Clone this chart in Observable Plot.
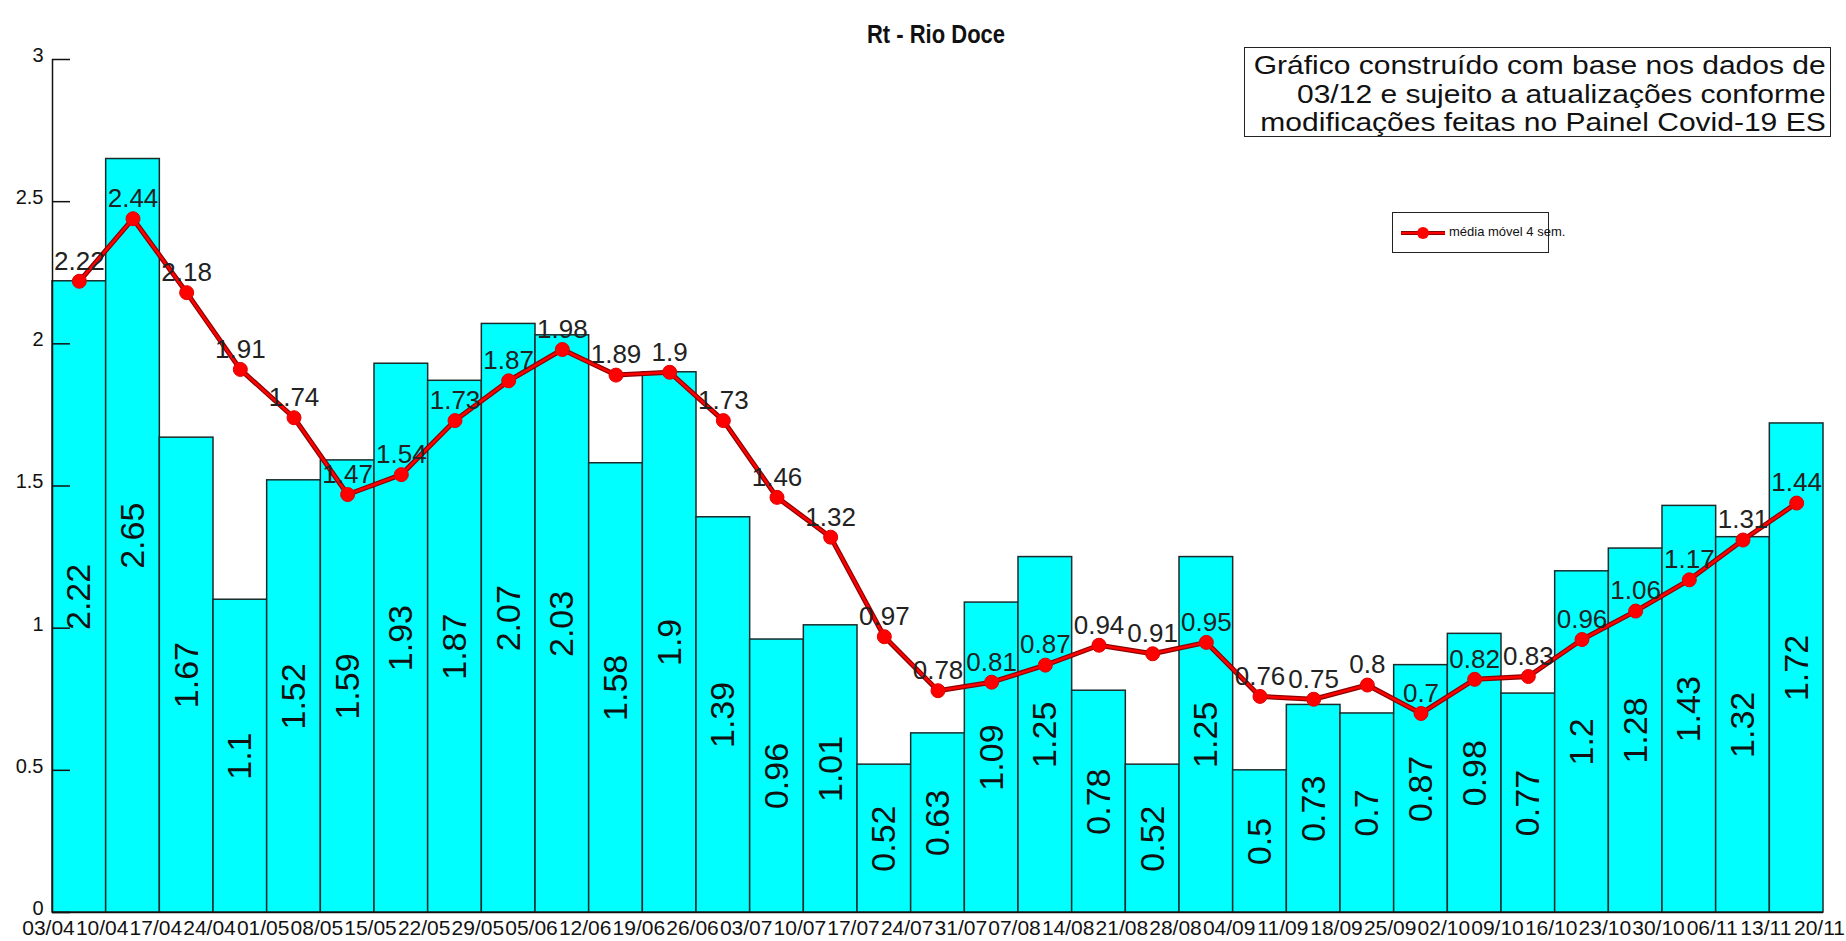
<!DOCTYPE html>
<html>
<head>
<meta charset="utf-8">
<script src="https://cdn.jsdelivr.net/npm/d3@7"></script>
<script src="https://cdn.jsdelivr.net/npm/@observablehq/plot@0.6"></script>
<style>
  html, body { margin: 0; padding: 0; background: #fff; overflow: hidden; }
  #wrap { position: relative; width: 1846px; height: 941px; font-family: "Liberation Sans", Arial, sans-serif; }
  #title { position: absolute; left: 736px; width: 400px; top: 19px; text-align: center; font-size: 22px; font-weight: bold; color: #111; transform: scaleY(1.2); transform-origin: center top; }
  #note { position: absolute; left: 1244px; top: 47px; width: 585px; height: 88px; border: 1.5px solid #222; background: #fff; }
  #note div { position: absolute; right: 4px; top: 3px; text-align: right; font-size: 25px; line-height: 28.5px; color: #111; transform: scaleX(1.2); transform-origin: right top; white-space: nowrap; }
  #legend { position: absolute; left: 1392px; top: 212px; width: 155px; height: 39px; border: 1.5px solid #222; background: #fff; }
  #legend svg { position: absolute; left: 8px; top: 10px; }
  #legend span { position: absolute; left: 56px; top: 11px; font-size: 13px; color: #111; white-space: nowrap; }
</style>
</head>
<body>
<div id="wrap">
  <div id="chart"></div>
  <div id="title">Rt - Rio Doce</div>
  <div id="note"><div>Gráfico construído com base nos dados de<br>03/12 e sujeito a atualizações conforme<br>modificações feitas no Painel Covid-19 ES</div></div>
  <div id="legend"><svg width="44" height="20"><line x1="0" y1="10" x2="44" y2="10" stroke="#8b0000" stroke-width="4"/><line x1="0" y1="10" x2="44" y2="10" stroke="#ff0000" stroke-width="2"/><circle cx="22" cy="10" r="6" fill="#ff0000"/></svg><span>média móvel 4 sem.</span></div>
</div>
<script>
const dates = ["03/04","10/04","17/04","24/04","01/05","08/05","15/05","22/05","29/05","05/06","12/06","19/06","26/06","03/07","10/07","17/07","24/07","31/07","07/08","14/08","21/08","28/08","04/09","11/09","18/09","25/09","02/10","09/10","16/10","23/10","30/10","06/11","13/11","20/11"];
const rtValues = [2.22,2.65,1.67,1.1,1.52,1.59,1.93,1.87,2.07,2.03,1.58,1.9,1.39,0.96,1.01,0.52,0.63,1.09,1.25,0.78,0.52,1.25,0.5,0.73,0.7,0.87,0.98,0.77,1.2,1.28,1.43,1.32,1.72];
const movingAvg = [2.22,2.44,2.18,1.91,1.74,1.47,1.54,1.73,1.87,1.98,1.89,1.9,1.73,1.46,1.32,0.97,0.78,0.81,0.87,0.94,0.91,0.95,0.76,0.75,0.8,0.7,0.82,0.83,0.96,1.06,1.17,1.31,1.44];
const yTicks = [0, 0.5, 1, 1.5, 2, 2.5, 3];

const rows = rtValues.map((v, i) => ({i, rt: v, mm: movingAvg[i]}));
const font = "'Liberation Sans', Arial, sans-serif";
const cx = d => d.i + 0.5;

const chart = Plot.plot({
  width: 1846,
  height: 941,
  marginLeft: 52,
  marginRight: 23,
  marginTop: 59,
  marginBottom: 29,
  style: {fontFamily: font, background: "transparent", color: "#111"},
  x: {type: "linear", domain: [0, rtValues.length]},
  y: {domain: [0, 3]},
  marks: [
    Plot.rectY(rows, {x1: "i", x2: d => d.i + 1, y1: 0, y2: "rt", fill: "#00ffff", stroke: "#1b2b2b", strokeWidth: 1.5}),
    Plot.text(rows, {x: cx, y: d => d.rt / 2, text: d => String(d.rt), rotate: -90, fontSize: 34, fontFamily: font, fill: "#111"}),
    Plot.ruleX([0], {stroke: "#111", strokeWidth: 1.5}),
    Plot.ruleY([0], {stroke: "#111", strokeWidth: 1.5}),
    Plot.axisY({ticks: yTicks, tickSize: 18, dx: 18, tickFormat: () => "", label: null, stroke: "#111", strokeWidth: 1.5}),
    Plot.axisY({ticks: yTicks, tickSize: 0, tickPadding: 9, dy: -4, tickFormat: d => String(d), fontSize: 20, fontFamily: font, label: null, fill: "#111"}),
    Plot.axisX({ticks: d3.range(dates.length), tickFormat: i => dates[i], tickSize: 0, tickPadding: 8, dx: -4, fontSize: 21, fontFamily: font, label: null, fill: "#111"}),
    Plot.line(rows, {x: cx, y: "mm", stroke: "#8b0000", strokeWidth: 5}),
    Plot.line(rows, {x: cx, y: "mm", stroke: "#ff0000", strokeWidth: 2.5}),
    Plot.dot(rows, {x: cx, y: "mm", r: 7, fill: "#ff0000", stroke: "#e00000", strokeWidth: 1}),
    Plot.text(rows, {x: cx, y: "mm", text: d => String(d.mm), dy: -20, fontSize: 26, fontFamily: font, fill: "#222"})
  ]
});
document.getElementById("chart").appendChild(chart);
</script>
</body>
</html>
